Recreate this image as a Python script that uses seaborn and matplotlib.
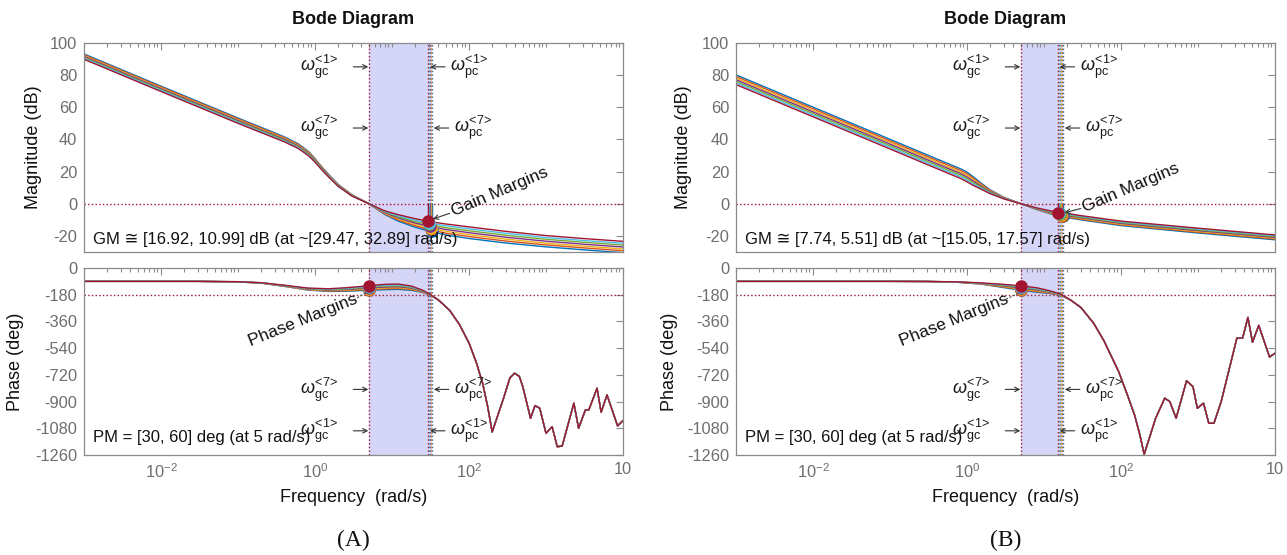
import numpy as np
import pandas as pd
import matplotlib
matplotlib.use("Agg")
import matplotlib.pyplot as plt
from matplotlib.ticker import LogLocator, NullFormatter, FixedLocator
import seaborn as sns

# ---------------- data ----------------
SERIES = ["1", "2", "3", "4", "5", "6", "7"]
COLORS = ["#0072BD", "#D95319", "#EDB120", "#7E2F8E", "#77AC30", "#4DBEEE", "#A2142F"]

GC_FREQ = 5.0
PM_VALS = [30, 35, 40, 45, 50, 55, 60]

# ---- panel A : magnitude ----
LM_W = [0.001, 0.01, 0.1, 0.3, 0.4, 0.5, 0.6, 0.7, 0.85, 1.0, 1.2, 1.5, 2.0, 3.0, 5.0, 8.0, 12.0,
        20.0, 30.0, 50.0, 100.0, 300.0, 1000.0, 3000.0, 10000.0]
LM_1 = [93.0, 73.0, 53.2, 44.0, 41.5, 39.2, 37.3, 35.0, 31.8, 28.0, 23.4, 18.2, 12.0, 5.6, 0.0, -6.6, -10.8, -14.6, -17.0, -19.4, -21.6, -24.4, -26.8, -28.6, -30.4]
LM_2 = [92.5, 72.5, 52.7, 43.5, 41.0, 38.7, 36.8, 34.5, 31.4, 27.6, 23.1, 17.9, 11.8, 5.5, 0.0, -6.2, -10.1, -13.7, -16.0, -18.3, -20.4, -23.2, -25.6, -27.4, -29.2]
LM_3 = [91.9, 71.9, 52.1, 42.9, 40.5, 38.2, 36.3, 34.1, 30.9, 27.3, 22.8, 17.7, 11.6, 5.3, 0.0, -5.9, -9.5, -12.8, -15.0, -17.1, -19.2, -22.0, -24.5, -26.3, -28.1]
LM_4 = [91.4, 71.4, 51.6, 42.4, 40.0, 37.7, 35.9, 33.6, 30.5, 26.9, 22.5, 17.4, 11.4, 5.2, 0.0, -5.5, -8.8, -12.0, -14.0, -16.0, -18.0, -20.8, -23.3, -25.1, -26.9]
LM_5 = [90.8, 70.8, 51.0, 41.9, 39.4, 37.2, 35.4, 33.1, 30.1, 26.5, 22.1, 17.1, 11.2, 5.1, 0.0, -5.1, -8.1, -11.1, -13.0, -14.9, -16.8, -19.6, -22.1, -23.9, -25.7]
LM_6 = [90.3, 70.3, 50.5, 41.3, 38.9, 36.7, 34.9, 32.7, 29.6, 26.2, 21.8, 16.9, 11.0, 4.9, 0.0, -4.8, -7.5, -10.2, -12.0, -13.7, -15.6, -18.4, -21.0, -22.8, -24.6]
LM_7 = [89.7, 69.7, 49.9, 40.8, 38.4, 36.2, 34.4, 32.2, 29.2, 25.8, 21.5, 16.6, 10.8, 4.8, 0.0, -4.4, -6.8, -9.3, -11.0, -12.6, -14.4, -17.2, -19.8, -21.6, -23.4]

# ---- panel A : phase (per-series low-frequency part + shared tail) ----
LP_W = [0.001, 0.03, 0.1, 0.2, 0.4, 0.8, 1.5, 2.5, 5.0, 8.0, 12.0, 18.0, 25.0, 31.0]
LP_1 = [-90, -90, -94.0, -102.0, -124.0, -148.0, -158, -157, -150, -146, -144, -150.0, -165.0, -183.0]
LP_2 = [-90, -90, -93.7, -101.5, -122.7, -145.8, -155, -153, -145, -140, -138, -145.3, -162.5, -181.8]
LP_3 = [-90, -90, -93.3, -101.0, -121.3, -143.7, -152, -149, -140, -134, -132, -140.7, -160.0, -180.7]
LP_4 = [-90, -90, -93.0, -100.5, -120.0, -141.5, -149, -145, -135, -128, -126, -136.0, -157.5, -179.5]
LP_5 = [-90, -90, -92.7, -100.0, -118.7, -139.3, -146, -141, -130, -122, -120, -131.3, -155.0, -178.3]
LP_6 = [-90, -90, -92.3, -99.5, -117.3, -137.2, -143, -137, -125, -116, -114, -126.7, -152.5, -177.2]
LP_7 = [-90, -90, -92.0, -99.0, -116.0, -135.0, -140, -133, -120, -110, -108, -122.0, -150.0, -176.0]
LT_W = [40, 56, 75, 100, 125, 150, 175, 200, 280, 340, 390, 450, 500, 630, 720, 830, 1000,
        1200, 1400, 1620, 2300, 2650, 3250, 3600, 4600, 5200, 6200, 8500, 10000]
LT_P = [-215, -285, -380, -505, -640, -775, -935, -1105, -880, -740, -709, -730, -800, -1013,
        -927, -945, -1114, -1069, -1204, -1200, -911, -1080, -956, -956, -810, -972, -855,
        -1064, -1028]

L_PC = [32.89, 32.3, 31.7, 31.2, 30.6, 30.0, 29.47]
L_GM = [16.92, 15.9, 14.9, 13.9, 12.9, 11.95, 10.99]
L_GM_TEXT = "GM \u2245 [16.92, 10.99] dB (at ~[29.47, 32.89] rad/s)"

# ---- panel B : magnitude ----
RM_W = [0.001, 0.01, 0.1, 0.5, 0.7, 0.85, 1.0, 1.2, 1.5, 2.0, 3.0, 5.0, 8.0, 12.0, 16.0, 30.0,
        100.0, 1000.0, 10000.0]
RM_1 = [80, 60, 40, 26, 23.1, 21.4, 19.6, 16.8, 13.0, 8.6, 4.0, 0, -3.6, -6.2, -7.9, -10.0, -13.6, -18.2, -22.4]
RM_2 = [79, 59, 39, 25, 22.1, 20.4, 18.6, 15.9, 12.4, 8.2, 3.8, 0, -3.4, -5.9, -7.5, -9.6, -13.1, -17.7, -21.9]
RM_3 = [78, 58, 38, 24, 21.1, 19.4, 17.6, 15.0, 11.7, 7.8, 3.7, 0, -3.3, -5.6, -7.0, -9.1, -12.7, -17.2, -21.4]
RM_4 = [77, 57, 37, 23, 20.1, 18.4, 16.6, 14.1, 11.1, 7.4, 3.5, 0, -3.1, -5.3, -6.6, -8.7, -12.2, -16.7, -20.9]
RM_5 = [76, 56, 36, 22, 19.1, 17.4, 15.6, 13.2, 10.5, 7.0, 3.3, 0, -2.9, -5.0, -6.2, -8.3, -11.7, -16.2, -20.4]
RM_6 = [75, 55, 35, 21, 18.1, 16.4, 14.6, 12.3, 9.8, 6.6, 3.2, 0, -2.8, -4.7, -5.7, -7.8, -11.3, -15.7, -19.9]
RM_7 = [74, 54, 34, 20, 17.1, 15.4, 13.6, 11.4, 9.2, 6.2, 3.0, 0, -2.6, -4.4, -5.3, -7.4, -10.8, -15.2, -19.4]

# ---- panel B : phase ----
RP_W = [0.001, 0.1, 0.3, 0.7, 1.5, 3.0, 5.0, 8.0, 12.0, 16.5]
RP_1 = [-90, -90, -91.0, -95.0, -108.0, -132.0, -150, -163, -172, -184.0]
RP_2 = [-90, -90, -90.9, -94.7, -106.7, -128.3, -145, -158, -169, -182.7]
RP_3 = [-90, -90, -90.8, -94.3, -105.3, -124.7, -140, -153, -166, -181.3]
RP_4 = [-90, -90, -90.8, -94.0, -104.0, -121.0, -135, -148, -163, -180.0]
RP_5 = [-90, -90, -90.7, -93.7, -102.7, -117.3, -130, -143, -160, -178.7]
RP_6 = [-90, -90, -90.6, -93.3, -101.3, -113.7, -125, -138, -157, -177.3]
RP_7 = [-90, -90, -90.5, -93.0, -100.0, -110.0, -120, -133, -154, -176.0]
RT_W = [22, 30, 44, 60, 93, 120, 150, 175, 200, 282, 370, 430, 520, 710, 860, 980, 1180,
        1380, 1610, 2000, 3200, 3800, 4450, 5100, 6150, 8500, 10000]
RT_P = [-215, -265, -371, -490, -697, -850, -990, -1120, -1255, -1012, -877, -900, -1012,
        -760, -799, -945, -911, -1046, -1046, -900, -472, -472, -333, -500, -387, -600, -574]

R_PC = [17.57, 17.15, 16.7, 16.3, 15.9, 15.45, 15.05]
R_GM = [7.74, 7.37, 7.0, 6.63, 6.25, 5.88, 5.51]
R_GM_TEXT = "GM \u2245 [7.74, 5.51] dB (at ~[15.05, 17.57] rad/s)"

PM_TEXT = "PM = [30, 60] deg (at 5 rad/s)"
PC_ONE = {"A": 29.47, "B": 15.05}
PC_SEVEN = {"A": 32.89, "B": 17.57}

# ---------------- style ----------------
sns.set_theme(style="white")
plt.rcParams['font.family'] = ['Liberation Sans', 'DejaVu Sans']
plt.rcParams['mathtext.fontset'] = 'custom'
plt.rcParams['mathtext.rm'] = 'Liberation Sans'
plt.rcParams['mathtext.it'] = 'Liberation Sans:italic'
plt.rcParams['mathtext.bf'] = 'Liberation Sans:bold'
plt.rcParams['axes.unicode_minus'] = False

SPINE = '#8a8a8a'
TICKLBL = '#6e6e6e'
SHADE = '#D5D5F8'
REFLINE = '#A2142F'
PX = 0.72  # points per pixel at 100 dpi

fig = plt.figure(figsize=(12.87, 5.55), dpi=100)

AX_W = 539 / 1287
MAG_Y0, MAG_H = 1 - 252 / 555, (252 - 42.7) / 555
PH_Y0, PH_H = 1 - 455 / 555, 187 / 555


def style_axes(ax, show_xlabels):
    ax.set_xscale('log')
    ax.set_xlim(1e-3, 1e4)
    ax.xaxis.set_major_locator(FixedLocator([1e-2, 1e0, 1e2, 1e4]))
    ax.xaxis.set_minor_locator(LogLocator(base=10, subs=np.arange(1, 10), numticks=60))
    ax.xaxis.set_minor_formatter(NullFormatter())
    if show_xlabels:
        ax.set_xticklabels([r'$10^{-2}$', r'$10^{0}$', r'$10^{2}$', '10'])
    else:
        ax.set_xticklabels([])
    ax.tick_params(which='both', direction='in', top=True, right=True,
                   color=SPINE, labelcolor=TICKLBL, labelsize=11.8, width=0.8)
    ax.tick_params(which='major', length=5, pad=5)
    ax.tick_params(which='minor', length=3)
    for s in ax.spines.values():
        s.set_color(SPINE)
        s.set_linewidth(0.9)
    ax.grid(False)
    ax.set_xlabel('')
    ax.set_ylabel('')


def long_df(ws, series_vals, value_name):
    rows = []
    for s, vals in zip(SERIES, series_vals):
        for w, v in zip(ws, vals):
            rows.append((w, v, s))
    return pd.DataFrame(rows, columns=['w', value_name, 'series'])


ARROW = dict(arrowstyle='->', color='#333333', lw=0.8, shrinkA=0, shrinkB=0, mutation_scale=8)


def omega_label(ax, x, y, kind, idx, side):
    s = r"$\omega_{\mathrm{%s}}^{\text{<%s>}}$" % (kind, idx)
    if side == 'left':
        ax.annotate('', xy=(x, y), xycoords='data', xytext=(-15 * PX, 0), textcoords='offset points',
                    arrowprops=ARROW, zorder=6)
        ax.annotate(s, xy=(x, y), xytext=(-30 * PX, 0), textcoords='offset points',
                    ha='right', va='center', fontsize=13, color='#1a1a1a', zorder=6)
    else:
        ax.annotate('', xy=(x, y), xycoords='data', xytext=(15 * PX, 0), textcoords='offset points',
                    arrowprops=ARROW, zorder=6)
        ax.annotate(s, xy=(x, y), xytext=(20 * PX, 0), textcoords='offset points',
                    ha='left', va='center', fontsize=13, color='#1a1a1a', zorder=6)


def draw_panel(x0, key, mw, mags, pw, phs, tw, tp, pcs, gms, gm_text, gain_txt_xy,
               gain_arrow, phase_txt_xy, phase_arrow):
    ax_m = fig.add_axes([x0, MAG_Y0, AX_W, MAG_H])
    ax_p = fig.add_axes([x0, PH_Y0, AX_W, PH_H])
    for ax in (ax_m, ax_p):
        ax.set_xscale('log')
        ax.axvspan(GC_FREQ, max(pcs), color=SHADE, lw=0, zorder=0)

    dfm = long_df(mw, mags, 'mag')
    sns.lineplot(data=dfm, x='w', y='mag', hue='series', hue_order=SERIES, palette=COLORS,
                 estimator=None, sort=False, legend=False, lw=1.0, ax=ax_m, zorder=2)
    full_w = list(pw) + list(tw)
    dfp = long_df(full_w, [list(p) + list(tp) for p in phs], 'ph')
    sns.lineplot(data=dfp, x='w', y='ph', hue='series', hue_order=SERIES, palette=COLORS,
                 estimator=None, sort=False, legend=False, lw=1.0, ax=ax_p, zorder=2)

    ax_m.axhline(0, color=REFLINE, ls=':', lw=1.0, zorder=1)
    ax_p.axhline(-180, color=REFLINE, ls=':', lw=1.0, zorder=1)
    for c, pc in zip(COLORS, pcs):
        ax_m.axvline(pc, color=c, ls=':', lw=1.0, zorder=1.5)
        ax_p.axvline(pc, color=c, ls=':', lw=1.0, zorder=1.5)
    ax_m.axvline(GC_FREQ, color=REFLINE, ls=':', lw=1.0, zorder=1.5)
    ax_p.axvline(GC_FREQ, color=REFLINE, ls=':', lw=1.0, zorder=1.5)

    for c, pc, gm, pm in zip(COLORS, pcs, gms, PM_VALS):
        ax_m.plot([pc, pc], [0, -gm], color=c, lw=1.0, zorder=3)
        ax_m.plot([pc], [-gm], 'o', ms=8, color=c, mec=c, zorder=4)
        ax_p.plot([GC_FREQ, GC_FREQ], [-180, -180 + pm], color=c, lw=1.0, zorder=3)
        ax_p.plot([GC_FREQ], [-180 + pm], 'o', ms=8, color=c, mec=c, zorder=4)

    ax_m.set_ylim(-30, 100)
    ax_m.set_yticks(list(range(-20, 101, 20)))
    ax_p.set_ylim(-1260, 0)
    ax_p.set_yticks(list(range(-1260, 1, 180)))
    style_axes(ax_m, False)
    style_axes(ax_p, True)

    gcx = GC_FREQ * 0.985
    omega_label(ax_m, gcx, 85, 'gc', 1, 'left')
    omega_label(ax_m, gcx, 47, 'gc', 7, 'left')
    omega_label(ax_m, PC_ONE[key] * 1.06, 85, 'pc', 1, 'right')
    omega_label(ax_m, PC_SEVEN[key] * 1.06, 47, 'pc', 7, 'right')
    omega_label(ax_p, gcx, -818, 'gc', 7, 'left')
    omega_label(ax_p, gcx, -1097, 'gc', 1, 'left')
    omega_label(ax_p, PC_SEVEN[key] * 1.06, -818, 'pc', 7, 'right')
    omega_label(ax_p, PC_ONE[key] * 1.06, -1097, 'pc', 1, 'right')

    ax_m.text(0.0013, -22.5, gm_text, ha='left', va='center', fontsize=12, color='#111111', zorder=6)
    ax_p.text(0.0013, -1145, PM_TEXT, ha='left', va='center', fontsize=12, color='#111111', zorder=6)

    ax_m.text(gain_txt_xy[0], gain_txt_xy[1], 'Gain Margins', rotation=23, rotation_mode='anchor',
              ha='left', va='center', fontsize=12.5, color='#111111', zorder=6)
    ax_m.annotate('', xy=gain_arrow[1], xytext=gain_arrow[0], arrowprops=ARROW, zorder=6)
    ax_p.text(phase_txt_xy[0], phase_txt_xy[1], 'Phase Margins', rotation=22, rotation_mode='anchor',
              ha='left', va='center', fontsize=12.5, color='#111111', zorder=6)
    ax_p.plot([phase_arrow[0][0], phase_arrow[1][0]], [phase_arrow[0][1], phase_arrow[1][1]],
              color='#444444', lw=0.8, ls=(0, (2, 1.5)), zorder=6)
    return ax_m, ax_p


draw_panel(84 / 1287, "A", LM_W, [LM_1, LM_2, LM_3, LM_4, LM_5, LM_6, LM_7],
           LP_W, [LP_1, LP_2, LP_3, LP_4, LP_5, LP_6, LP_7], LT_W, LT_P,
           L_PC, L_GM, L_GM_TEXT,
           gain_txt_xy=(60, -5.0), gain_arrow=((56, -6.0), (34, -9.5)),
           phase_txt_xy=(0.14, -500), phase_arrow=((3.2, -215), (4.8, -160)))

draw_panel(736 / 1287, "B", RM_W, [RM_1, RM_2, RM_3, RM_4, RM_5, RM_6, RM_7],
           RP_W, [RP_1, RP_2, RP_3, RP_4, RP_5, RP_6, RP_7], RT_W, RT_P,
           R_PC, R_GM, R_GM_TEXT,
           gain_txt_xy=(32, -2.5), gain_arrow=((30, -3.0), (18.5, -5.6)),
           phase_txt_xy=(0.135, -500), phase_arrow=((3.2, -210), (4.6, -172)))

for cx, tag in ((0.27467, "(A)"), (0.78127, "(B)")):
    fig.text(cx, 1 - 20 / 555, "Bode Diagram", ha='center', va='center',
             fontsize=13, fontweight='bold', color='#111111')
    fig.text(cx, 1 - 497 / 555, "Frequency  (rad/s)", ha='center', va='center',
             fontsize=13, color='#111111')
    fig.text(cx, 1 - 540 / 555, tag, ha='center', va='center', fontsize=17,
             family='Liberation Serif', color='#111111')

for x, y, s in ((33.4, 147.35, "Magnitude (dB)"), (15.8, 361.5, "Phase (deg)"),
                (683, 147.35, "Magnitude (dB)"), (669, 361.5, "Phase (deg)")):
    fig.text(x / 1287, 1 - y / 555, s, rotation=90, ha='center', va='center',
             fontsize=13, color='#111111')

fig.savefig("out.png", dpi=100)
